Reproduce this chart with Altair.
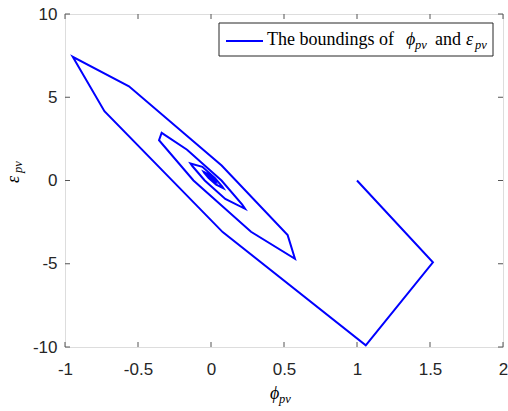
import altair as alt
import pandas as pd

# Trajectory of (phi_pv, eps_pv)
phi = [1.00, 1.52, 1.06, 0.08, -0.73, -0.947, -0.562, 0.073, 0.525, 0.575,
       0.274, -0.12, -0.356, -0.338, -0.164, 0.072, 0.214, 0.233, 0.098, -0.043,
       -0.128, -0.140, -0.059, 0.026, 0.077, 0.084, 0.035, -0.016, -0.046, -0.050,
       -0.021, 0.009, 0.028, 0.030, 0.013, -0.006, -0.017, -0.018, -0.008, 0.003,
       0.010, 0.011]
eps = [0.0, -4.92, -9.9, -3.1, 4.16, 7.43, 5.66, 0.9, -3.28, -4.70,
       -3.08, 0.0, 2.42, 2.86, 1.85, 0.0, -1.45, -1.70, -1.11, 0.0,
       0.87, 1.02, 0.82, 0.15, -0.37, -0.46, -0.25, 0.15, 0.46, 0.52,
       0.39, 0.15, -0.04, -0.07, 0.01, 0.15, 0.26, 0.28, 0.24, 0.15,
       0.08, 0.07]

x_ticks = [-1, -0.5, 0, 0.5, 1, 1.5, 2]
y_ticks = [-10, -5, 0, 5, 10]

df = pd.DataFrame({"i": list(range(len(phi))), "phi": phi, "eps": eps})
xt = pd.DataFrame({"v": x_ticks})
yt = pd.DataFrame({"v": y_ticks})
one = pd.DataFrame({"a": [0]})

W, H = 438, 333
AXC = "#262626"
FRAME = "#7a7a7a"
TICKC = "#555555"
SERIF = "Liberation Serif"
BLUE = "#0000ff"

xscale = alt.Scale(domain=[-1, 2], nice=False, zero=False)
yscale = alt.Scale(domain=[-10, 10], nice=False, zero=False)

xaxis = alt.Axis(values=x_ticks, title=None, grid=False, domain=False, ticks=False,
                 tickSize=0, labelFont="Liberation Sans", labelFontSize=17,
                 labelColor=AXC, labelPadding=14, labelFlush=False,
                 labelOverlap=False, labelBound=False, labelExpr="'' + datum.value")
yaxis = alt.Axis(values=y_ticks, title=None, grid=False, domain=False, ticks=False,
                 tickSize=0, labelFont="Liberation Sans", labelFontSize=17,
                 labelColor=AXC, labelPadding=8, labelFlush=False,
                 labelOverlap=False, labelBound=False, labelExpr="'' + datum.value")

line = alt.Chart(df).mark_line(color=BLUE, strokeWidth=2, clip=True).encode(
    x=alt.X("phi:Q", scale=xscale, axis=xaxis),
    y=alt.Y("eps:Q", scale=yscale, axis=yaxis),
    order=alt.Order("i:Q"),
)

tick_bottom = alt.Chart(xt).mark_rule(color=TICKC, strokeWidth=1).encode(
    x=alt.X("v:Q", scale=xscale), y=alt.value(H), y2=alt.value(H - 5))
tick_top = alt.Chart(xt).mark_rule(color=TICKC, strokeWidth=1).encode(
    x=alt.X("v:Q", scale=xscale), y=alt.value(0), y2=alt.value(5))
tick_left = alt.Chart(yt).mark_rule(color=TICKC, strokeWidth=1).encode(
    y=alt.Y("v:Q", scale=yscale), x=alt.value(0), x2=alt.value(5))
tick_right = alt.Chart(yt).mark_rule(color=TICKC, strokeWidth=1).encode(
    y=alt.Y("v:Q", scale=yscale), x=alt.value(W), x2=alt.value(W - 5))

# Legend box
leg_box = alt.Chart(one).mark_rect(fill="white", stroke=AXC, strokeWidth=1).encode(
    x=alt.value(154), x2=alt.value(428), y=alt.value(9), y2=alt.value(42))
leg_line = alt.Chart(one).mark_rule(color=BLUE, strokeWidth=2).encode(
    x=alt.value(161), x2=alt.value(198), y=alt.value(27))


def txt(s, x, y, size=18, italic=False, angle=None):
    kw = dict(align="left", baseline="alphabetic", font=SERIF, fontSize=size,
              color="#000000")
    if italic:
        kw["fontStyle"] = "italic"
    if angle is not None:
        kw["angle"] = angle
    return alt.Chart(one).mark_text(**kw).encode(
        text=alt.value(s), x=alt.value(x), y=alt.value(y))


texts = [
    txt("The boundings of", 202, 31),
    txt("ϕ", 341, 31, italic=True),
    txt("pv", 350, 35, size=12.5, italic=True),
    txt("and", 370, 31),
    txt("ε", 401, 31, italic=True),
    txt("pv", 410, 35, size=12.5, italic=True),
    # x axis title
    txt("ϕ", 205, 385, italic=True),
    txt("pv", 214, 389, size=12.5, italic=True),
    # y axis title (rotated)
    txt("ε", -46, 169, italic=True, angle=270),
    txt("pv", -43, 159, size=12.5, italic=True, angle=270),
]

chart = alt.layer(line, tick_bottom, tick_top, tick_left, tick_right,
                  leg_box, leg_line, *texts).properties(
    width=W, height=H,
    autosize=alt.AutoSizeParams(type="none"),
    padding={"left": 65, "top": 14, "right": 5, "bottom": 64},
).configure_view(stroke=FRAME, strokeWidth=1).configure(background="white")

chart.save("out.html", embed_options={"renderer": "svg", "actions": False})
